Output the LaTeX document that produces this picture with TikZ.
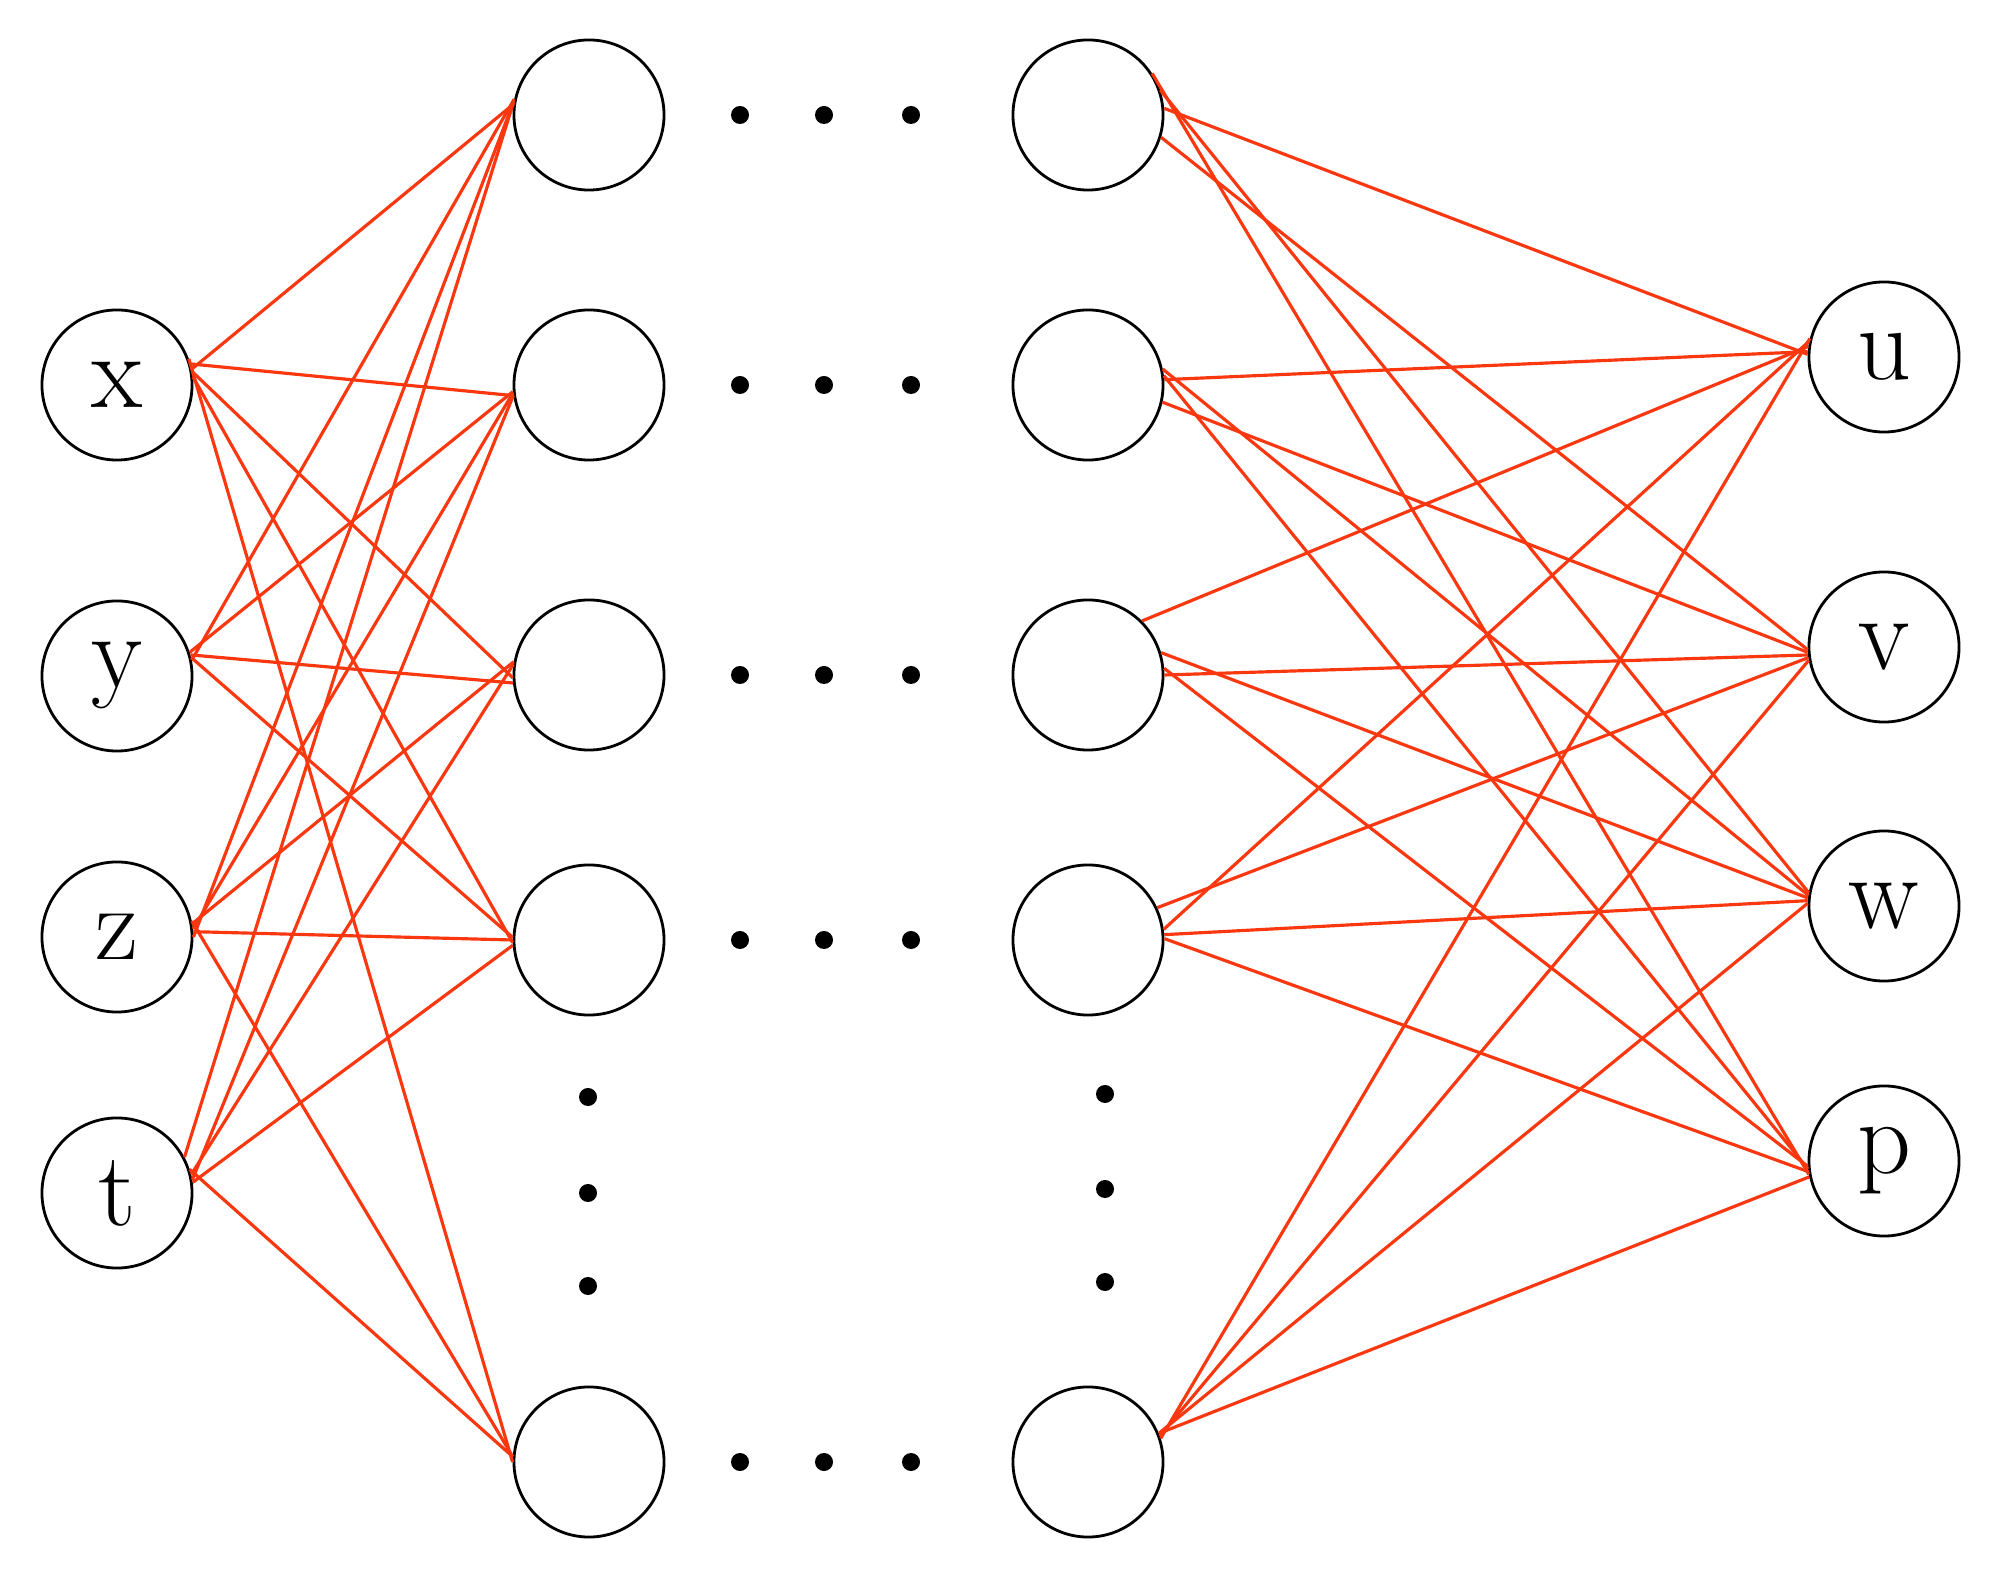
\documentclass[tikz,border=0pt]{standalone}
\definecolor{linkred}{RGB}{250,55,15}
\begin{document}
\begin{tikzpicture}[x=0.01cm,y=-0.01cm,
  neuron/.style={circle,draw,line width=0.8pt,minimum size=1.5cm,inner sep=0pt,font=\fontsize{30}{35}\selectfont},
  conn/.style={draw=linkred,line width=0.9pt},
  dotmark/.style={circle,fill=black,draw=none,inner sep=0pt,minimum size=0.18cm}]
\useasboundingbox (0,0) rectangle (2000,1577);
% input layer
\node[neuron] (x) at (117,385) {x};
\node[neuron] (y) at (117,676) {y};
\node[neuron] (z) at (117,937) {z};
\node[neuron] (t) at (117,1193) {t};
% hidden layer 1
\node[neuron] (h11) at (589,115) {};
\node[neuron] (h12) at (589,385) {};
\node[neuron] (h13) at (589,675) {};
\node[neuron] (h14) at (589,940) {};
\node[neuron] (h15) at (589,1462) {};
% hidden layer 2
\node[neuron] (h21) at (1088,115) {};
\node[neuron] (h22) at (1088,385) {};
\node[neuron] (h23) at (1088,675) {};
\node[neuron] (h24) at (1088,940) {};
\node[neuron] (h25) at (1088,1462) {};
% output layer
\node[neuron] (u) at (1884,357) {u};
\node[neuron] (v) at (1884,647) {v};
\node[neuron] (w) at (1884,906) {w};
\node[neuron] (p) at (1884,1161) {p};
% horizontal dots
\foreach \r/\yy in {1/115,2/385,3/675,4/940,5/1462}{
  \node[dotmark] (ha\r) at (740,\yy) {};
  \node[dotmark] (hb\r) at (824,\yy) {};
  \node[dotmark] (hc\r) at (911,\yy) {};
}
% vertical dots
\node[dotmark] (va1) at (588,1097) {};
\node[dotmark] (va2) at (588,1193) {};
\node[dotmark] (va3) at (588,1286) {};
\node[dotmark] (vb1) at (1105,1094) {};
\node[dotmark] (vb2) at (1105,1189) {};
\node[dotmark] (vb3) at (1105,1282) {};
% input -> hidden 1
\draw[conn] (x.12) -- (h11.172);
\draw[conn] (x.16) -- (h12.188);
\draw[conn] (x.10) -- (h13.182);
\draw[conn] (x.6) -- (h14.182);
\draw[conn] (x.20) -- (h15.180);
\draw[conn] (y.12) -- (h11.168);
\draw[conn] (y.18) -- (h12.185);
\draw[conn] (y.16) -- (h13.186);
\draw[conn] (y.14) -- (h14.178);
\draw[conn] (z.0) -- (h11.170);
\draw[conn] (z.6) -- (h12.186);
\draw[conn] (z.10) -- (h13.170);
\draw[conn] (z.4) -- (h14.180);
\draw[conn] (z.12) -- (h15.176);
\draw[conn] (t.28) -- (h11.170);
\draw[conn] (t.10) -- (h12.188);
\draw[conn] (t.14) -- (h13.172);
\draw[conn] (t.8) -- (h14.184);
\draw[conn] (t.18) -- (h15.176);
% hidden 2 -> output
\draw[conn] (h21.5) -- (u.178);
\draw[conn] (h21.-17) -- (v.182);
\draw[conn] (h21.19) -- (w.170);
\draw[conn] (h21.33) -- (p.190);
\draw[conn] (h22.4) -- (u.176);
\draw[conn] (h22.-13) -- (v.184);
\draw[conn] (h22.12) -- (w.172);
\draw[conn] (h22.7) -- (p.186);
\draw[conn] (h23.45) -- (u.172);
\draw[conn] (h23.0) -- (v.186);
\draw[conn] (h23.17) -- (w.174);
\draw[conn] (h23.5) -- (p.184);
\draw[conn] (h24.8) -- (u.168);
\draw[conn] (h24.25) -- (v.188);
\draw[conn] (h24.4) -- (w.176);
\draw[conn] (h24.1) -- (p.188);
\draw[conn] (h25.18) -- (u.166);
\draw[conn] (h25.20) -- (v.190);
\draw[conn] (h25.22) -- (w.178);
\draw[conn] (h25.22) -- (p.192);
\end{tikzpicture}
\end{document}
